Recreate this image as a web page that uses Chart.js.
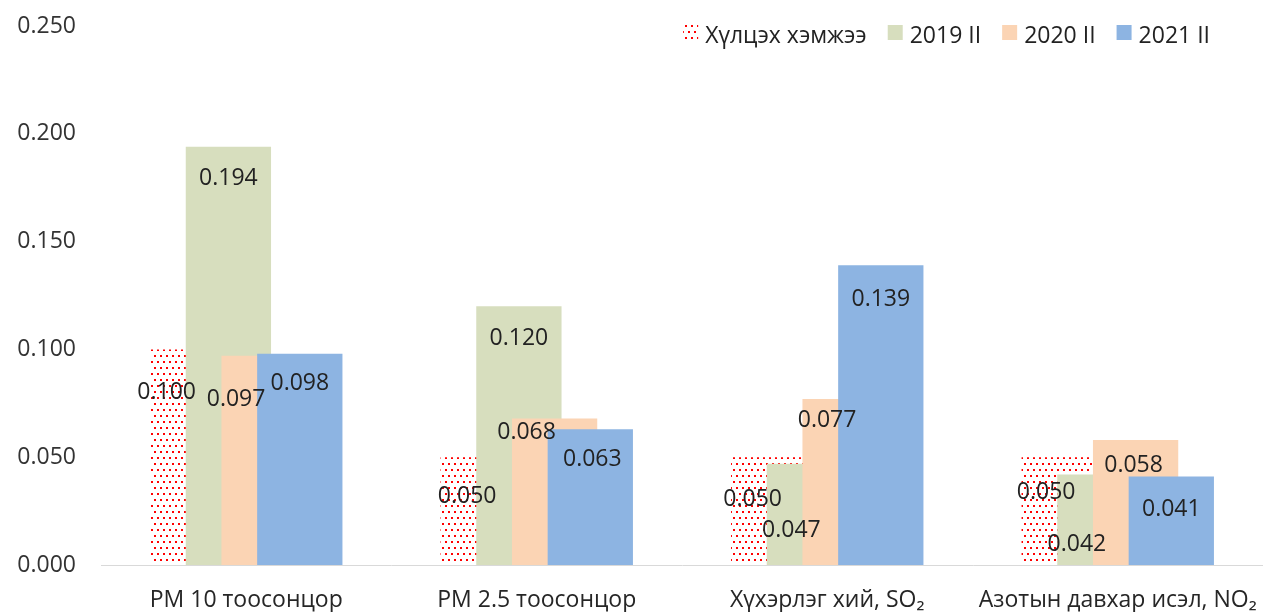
<!DOCTYPE html>
<html>
<head>
<meta charset="utf-8">
<script src="https://cdn.jsdelivr.net/npm/chart.js@4.4.0/dist/chart.umd.min.js"></script>
<style>
    html, body { margin: 0; padding: 0; background: #ffffff; }
    #wrap { width: 1263px; height: 612px; }
</style>
</head>
<body>
<div id="wrap"><canvas id="airChart" width="1263" height="612"></canvas></div>
<script>
var categories = ['PM 10 тоосонцор', 'PM 2.5 тоосонцор', 'Хүхэрлэг хий, SO₂', 'Азотын давхар исэл, NO₂'];
var seriesNames = ['Хүлцэх хэмжээ', '2019 II', '2020 II', '2021 II'];
var limitValues = [0.100, 0.050, 0.050, 0.050];
var values2019 = [0.194, 0.120, 0.047, 0.042];
var values2020 = [0.097, 0.068, 0.077, 0.058];
var values2021 = [0.098, 0.063, 0.139, 0.041];
var yTicks = [0, 0.05, 0.1, 0.15, 0.2, 0.25];

// label nudges (px) from the default spot inside the bar top, per series / category
var labelNudges = [
    [[-26, 12], [-16, 8], [-21, 11], [-18, 4]],
    [[0, 0], [0, 1], [-18, 35], [-23, 39]],
    [[-28, 12], [-28, -17], [-18, -10], [-2, -6]],
    [[0, -2], [2, -1], [0, 3], [0, 1]]
];

var FONT = '"Open Sans", "Noto Sans", sans-serif';
var BAR_WIDTH = 0.2936;   // share of a category
var BAR_STEP = 0.1229;    // shift between overlapped bars, share of a category

var canvas = document.getElementById('airChart');
var mainCtx = canvas.getContext('2d');

function makeDotPattern() {
    var tile = document.createElement('canvas');
    tile.width = 6;
    tile.height = 12;
    var t = tile.getContext('2d');
    t.fillStyle = '#ffffff';
    t.fillRect(0, 0, 6, 12);
    t.fillStyle = '#ff0000';
    t.fillRect(1, 1, 2, 2);
    t.fillRect(4, 7, 2, 2);
    return mainCtx.createPattern(tile, 'repeat');
}

var dotPattern = makeDotPattern();

// Excel style overlap: every series drawn at the category centre, then shifted
var overlapPlugin = {
    id: 'overlap',
    afterDatasetsUpdate: function(chart) {
        var xs = chart.scales.x;
        var catW = (xs.right - xs.left) / categories.length;
        chart.data.datasets.forEach(function(ds, i) {
            var meta = chart.getDatasetMeta(i);
            meta.data.forEach(function(bar) {
                bar.x += (i - 1.5) * BAR_STEP * catW;
            });
        });
    }
};

var valueLabelPlugin = {
    id: 'valueLabels',
    afterDatasetsDraw: function(chart) {
        var ctx = chart.ctx;
        ctx.save();
        ctx.font = '23px ' + FONT;
        ctx.fillStyle = '#222222';
        ctx.textAlign = 'center';
        ctx.textBaseline = 'alphabetic';
        chart.data.datasets.forEach(function(ds, i) {
            var meta = chart.getDatasetMeta(i);
            meta.data.forEach(function(bar, j) {
                var nudge = labelNudges[i][j];
                ctx.fillText(ds.data[j].toFixed(3), bar.x + nudge[0], bar.y + 38 + nudge[1]);
            });
        });
        ctx.restore();
    }
};

// floating legend in the top right corner, over the plot
var legendPlugin = {
    id: 'floatLegend',
    afterDraw: function(chart) {
        var ctx = chart.ctx;
        var boxSize = 15, boxGap = 7, itemGap = 21;
        ctx.save();
        ctx.font = '23px ' + FONT;
        var widths = chart.data.datasets.map(function(ds) {
            return boxSize + boxGap + ctx.measureText(ds.label).width;
        });
        var total = widths.reduce(function(a, b) { return a + b; }, 0) + itemGap * (widths.length - 1);
        var x = chart.width - 53 - total;
        ctx.textAlign = 'left';
        ctx.textBaseline = 'alphabetic';
        chart.data.datasets.forEach(function(ds, i) {
            ctx.fillStyle = ds.backgroundColor;
            ctx.fillRect(x, 25, boxSize, boxSize);
            ctx.fillStyle = '#222222';
            ctx.fillText(ds.label, x + boxSize + boxGap, 43);
            x += widths[i] + itemGap;
        });
        ctx.restore();
    }
};

new Chart(canvas, {
    type: 'bar',
    data: {
        labels: categories,
        datasets: [
            { label: seriesNames[0], data: limitValues, backgroundColor: dotPattern, order: 4 },
            { label: seriesNames[1], data: values2019, backgroundColor: '#D7DEBE', order: 3 },
            { label: seriesNames[2], data: values2020, backgroundColor: '#FBD4B4', order: 2 },
            { label: seriesNames[3], data: values2021, backgroundColor: '#8DB4E2', order: 1 }
        ]
    },
    options: {
        responsive: false,
        animation: false,
        events: [],
        grouped: false,
        categoryPercentage: 1,
        barPercentage: BAR_WIDTH,
        borderWidth: 0,
        layout: {
            padding: { top: 26, left: 0, right: -3, bottom: 0 }
        },
        plugins: {
            legend: { display: false },
            tooltip: { enabled: false }
        },
        scales: {
            x: {
                grid: { display: false, drawTicks: false },
                border: { display: true, color: '#d9d9d9', width: 1 },
                ticks: {
                    color: '#262626',
                    font: { family: FONT, size: 23 },
                    padding: 22,
                    maxRotation: 0,
                    autoSkip: false
                },
                afterFit: function(scale) {
                    scale.height = 47;
                    scale.paddingLeft = 0;
                    scale.paddingRight = 0;
                }
            },
            y: {
                min: 0,
                max: 0.25,
                grid: { display: false, drawTicks: false },
                border: { display: false },
                ticks: {
                    color: '#333333',
                    font: { family: FONT, size: 23 },
                    padding: 25,
                    callback: function(v) { return Number(v).toFixed(3); }
                },
                afterBuildTicks: function(scale) {
                    scale.ticks = yTicks.map(function(v) { return { value: v }; });
                },
                afterFit: function(scale) {
                    scale.width = 101;
                    // label padding would otherwise push the plot top down
                    scale.paddingTop = 0;
                    scale.paddingBottom = 0;
                }
            }
        }
    },
    plugins: [overlapPlugin, valueLabelPlugin, legendPlugin]
});
</script>
</body>
</html>
